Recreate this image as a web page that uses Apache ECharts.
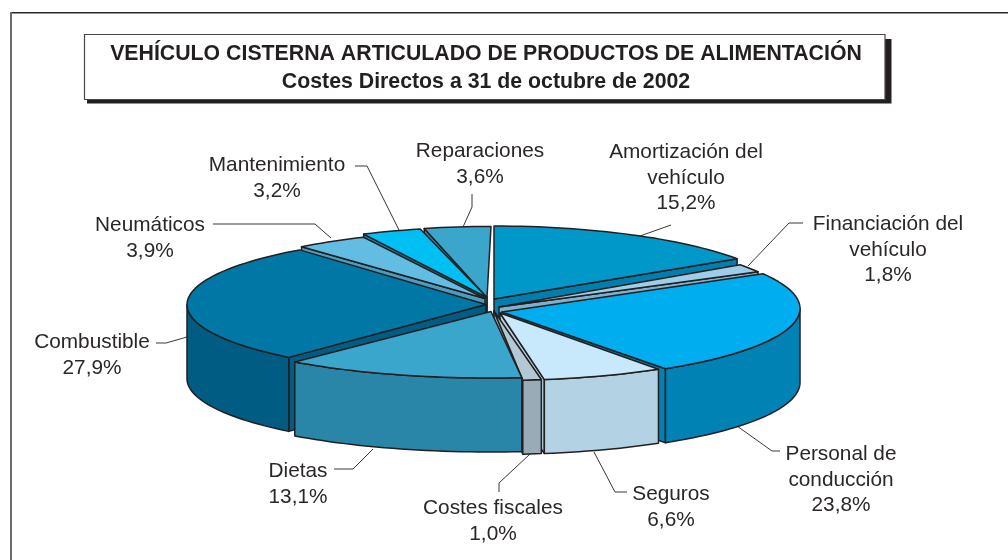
<!DOCTYPE html>
<html><head><meta charset="utf-8">
<style>html,body{margin:0;padding:0;background:#fff}#c{width:1008px;height:560px}</style>
<script src="https://cdn.jsdelivr.net/npm/echarts@6/dist/echarts.min.js"></script>
</head><body><div id="c"></div>
<script>
const titleLines = ['VEHÍCULO CISTERNA ARTICULADO DE PRODUCTOS DE ALIMENTACIÓN', 'Costes Directos a 31 de octubre de 2002'];
const categories = ['Amortización del\nvehículo', 'Financiación del\nvehículo', 'Personal de\nconducción', 'Seguros', 'Costes fiscales', 'Dietas', 'Combustible', 'Neumáticos', 'Mantenimiento', 'Reparaciones'];
const shares = [15.2, 1.8, 23.8, 6.6, 1.0, 13.1, 27.9, 3.9, 3.2, 3.6];
const topColors = ['#0098c9', '#9dcde8', '#00aeef', '#c8e8fb', '#b4c8d4', '#3aa6cc', '#0077a5', '#63bce2', '#00bff3', '#3aa6cc'];
const wallColors = ['#007fae', '#7fb0cc', '#0082b5', '#b3d3e5', '#9aabb8', '#2a86a9', '#005c82', '#4a9cc0', '#0096c4', '#2a86a9'];

// projection of the pie: centre, radii, thickness
const C = {x: 490, y: 303.5, rx: 298, ry: 77.5, depth: 74};
// explosion of each slice: rim shift, rim ry, apex shift
const explode = [
  {dx: 4, dy: 0, ry: 77.5, ax: 4, ay: -4.5},
  {dx: 7, dy: 3.5, ry: 73, ax: 9, ay: 3.5},
  {dx: 12, dy: 5, ry: 72, ax: 12, ay: 8.5},
  {dx: 5, dy: 8, ry: 69, ax: 10, ay: 9.5},
  {dx: 2, dy: 8, ry: 69, ax: 4, ay: 7.5},
  {dx: 1, dy: 9.5, ry: 65, ax: 1, ay: 8},
  {dx: -5, dy: 1.2, ry: 70, ax: -4, ay: 1},
  {dx: -3, dy: 2, ry: 75, ax: -5, ay: -5},
  {dx: -3, dy: 2.5, ry: 79, ax: -3, ay: -6},
  {dx: 1, dy: 0.5, ry: 77.5, ax: -3, ay: -6}
];
// draw back-to-front
const paintOrder = [9, 0, 8, 7, 1, 6, 2, 3, 4, 5];
const labelSpots = [
  {x: 686, y: 178, lines: [[640,236],[671,225]]},
  {x: 888, y: 250, lines: [[748,266],[789,223],[803,223]]},
  {x: 841, y: 480, lines: [[737,426],[772,451],[780,451]]},
  {x: 671, y: 507, lines: [[594,452],[615,492],[627,492]]},
  {x: 493, y: 521, lines: [[530,454],[499,483],[499,492]]},
  {x: 298, y: 484, lines: [[373,449],[353,469],[334,469]]},
  {x: 92, y: 355, lines: [[187,337],[166,343],[156,343]]},
  {x: 150, y: 238, lines: [[331,238],[315,224],[213,224]]},
  {x: 277, y: 178, lines: [[399,230],[367,166],[355,166]]},
  {x: 480, y: 164, lines: [[463,227],[472,207],[472,194]]}
];

const total = shares.reduce((a, b) => a + b, 0);
let run = 0;
const spans = shares.map(v => { const s = run; run += v; return [s / total * 2 * Math.PI, run / total * 2 * Math.PI]; });
const stroke = {stroke: '#231f20', lineWidth: 1.5, lineJoin: 'round'};

function arcPoints(i, a0, a1, down) {
  const e = explode[i], pts = [], n = Math.max(3, Math.ceil((a1 - a0) / 0.03));
  for (let k = 0; k <= n; k++) {
    const t = a0 + (a1 - a0) * k / n;
    pts.push([C.x + e.dx + C.rx * Math.sin(t), C.y + e.dy - e.ry * Math.cos(t) + down]);
  }
  return pts;
}
function renderSlice(params, api) {
  const i = api.value(0);
  const [a0, a1] = spans[i], e = explode[i];
  const apex = [C.x + e.ax, C.y + e.ay], d = C.depth;
  const drop = p => [p[0], p[1] + d];
  const rim = arcPoints(i, a0, a1, 0);
  const faces = [];
  const poly = (points, fill) => faces.push({type: 'polygon', shape: {points}, style: {fill, ...stroke}});
  // radial cut faces
  if (Math.sin(a0) < 0) poly([apex, rim[0], drop(rim[0]), drop(apex)], wallColors[i]);
  if (Math.sin(a1) > 0) poly([apex, rim[rim.length - 1], drop(rim[rim.length - 1]), drop(apex)], wallColors[i]);
  // outer wall: only the front half of the rim
  const lo = Math.max(a0, Math.PI / 2), hi = Math.min(a1, 1.5 * Math.PI);
  if (hi > lo) {
    const front = arcPoints(i, lo, hi, 0);
    poly(front.concat(front.map(drop).reverse()), wallColors[i]);
  }
  // top face
  poly([apex].concat(rim), topColors[i]);
  return {type: 'group', children: faces};
}
const sliceData = paintOrder.map(i => [i, shares[i]]);

const textColor = '#2b2728';
const labelEls = [];
categories.forEach((name, i) => {
  const s = labelSpots[i];
  labelEls.push({type: 'polyline', silent: true, z: 1, shape: {points: s.lines}, style: {fill: 'none', stroke: '#3a3637', lineWidth: 1}});
  labelEls.push({type: 'text', silent: true, z: 2, x: s.x, y: s.y, style: {
    text: name + '\n' + shares[i].toFixed(1).replace('.', ',') + '%',
    fill: textColor, font: '20.8px "Liberation Sans", Arial, sans-serif',
    align: 'center', verticalAlign: 'middle', lineHeight: 25.7
  }});
});

const chart = echarts.init(document.getElementById('c'), null, {renderer: 'canvas'});
chart.setOption({
  animation: false,
  backgroundColor: '#ffffff',
  series: [{type: 'custom', coordinateSystem: 'none', data: sliceData, z: 5, renderItem: renderSlice, silent: true, clip: false}],
  graphic: [
    {type: 'rect', silent: true, z: 0, shape: {x: 10, y: 12, width: 1100, height: 1.4}, style: {fill: '#2b2728'}},
    {type: 'rect', silent: true, z: 0, shape: {x: 10, y: 12, width: 2, height: 560}, style: {fill: '#6a6a6a'}},
    {type: 'rect', silent: true, z: 0, shape: {x: 87, y: 39, width: 804.5, height: 64.5}, style: {fill: '#231f20'}},
    {type: 'rect', silent: true, z: 0, shape: {x: 84.5, y: 34.5, width: 800.5, height: 65}, style: {fill: '#fff', stroke: '#4a4647', lineWidth: 1.2}},
    {type: 'text', silent: true, z: 1, x: 486, y: 54, style: {text: titleLines[0], fill: '#231f20', font: 'bold 21.3px "Liberation Sans", Arial, sans-serif', align: 'center', verticalAlign: 'middle'}},
    {type: 'text', silent: true, z: 1, x: 486, y: 82, style: {text: titleLines[1], fill: '#231f20', font: 'bold 21.3px "Liberation Sans", Arial, sans-serif', align: 'center', verticalAlign: 'middle'}},
    ...labelEls
  ]
});
</script></body></html>
